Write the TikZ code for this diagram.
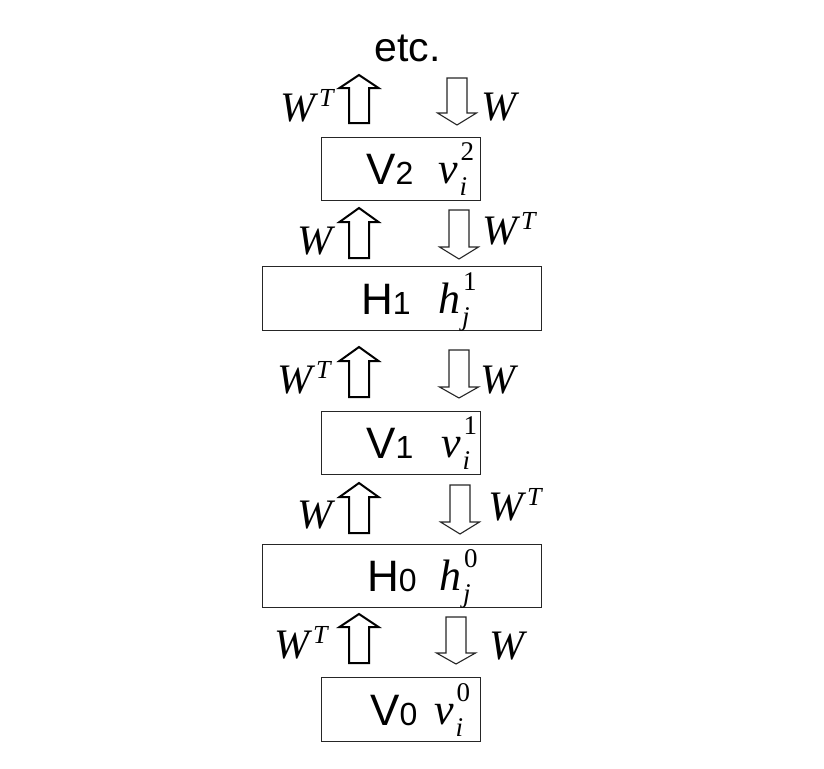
\documentclass[tikz,border=0pt]{standalone}
\usepackage{fontspec}
\setmainfont{Liberation Serif}
\newfontfamily\hv{Liberation Sans}
\newcommand{\Wit}{{\fontsize{42}{42}\selectfont\itshape W}}
\newcommand{\WTit}{{\fontsize{42}{42}\selectfont\itshape W}\kern4pt\raisebox{15pt}{\fontsize{26}{26}\selectfont\itshape T}}
\newcommand{\layerlbl}[2]{{\hv\fontsize{44}{44}\selectfont #1\fontsize{32}{32}\selectfont #2}}
\newcommand{\unitvar}[3]{{\fontsize{44}{44}\selectfont\itshape #1}\kern2pt\rlap{\raisebox{23pt}{\kern1pt\fontsize{27}{27}\selectfont #3}}\raisebox{-12pt}{\fontsize{27}{27}\selectfont\itshape #2}}
\newcommand{\uparrowshape}[4]{% cx, tip, headbase, bottom
  \draw[uparr] (#1-10,#4) -- (#1-10,#3) -- (#1-19.5,#3) -- (#1,#2) -- (#1+19.5,#3) -- (#1+10,#3) -- (#1+10,#4) -- cycle;}
\newcommand{\downarrowshape}[4]{% cx, top, headbase, tip
  \draw[downarr] (#1-10,#2) -- (#1-10,#3) -- (#1-19.5,#3) -- (#1,#4) -- (#1+19.5,#3) -- (#1+10,#3) -- (#1+10,#2) -- cycle;}
\begin{document}
\begin{tikzpicture}[x=1pt,y=-1pt,
  layerbox/.style={draw=black!85,line width=1pt,inner sep=0pt},
  uparr/.style={draw=black,line width=2pt,line join=miter,fill=white},
  downarr/.style={draw=black!85,line width=1.1pt,line join=miter,fill=white},
  lbl/.style={inner sep=0pt,anchor=base west}]
\useasboundingbox (0,0) rectangle (824,768);
% boxes
\node[layerbox,minimum width=159pt,minimum height=63pt] (v2) at (400.5,168.5) {};
\node[layerbox,minimum width=279pt,minimum height=64pt] (h1) at (401.5,298) {};
\node[layerbox,minimum width=159pt,minimum height=63pt] (v1) at (400.5,442.5) {};
\node[layerbox,minimum width=279pt,minimum height=63pt] (h0) at (401.5,575.5) {};
\node[layerbox,minimum width=159pt,minimum height=64pt] (v0) at (400.5,709) {};
% box texts
\node[lbl] (v2a) at (366,184) {\layerlbl{V}{2}};
\node[lbl] (v2b) at (438,183) {\unitvar{v}{i}{2}};
\node[lbl] (h1a) at (361,314) {\layerlbl{H}{1}};
\node[lbl] (h1b) at (438,313) {\unitvar{h}{j}{1}};
\node[lbl] (v1a) at (366,458) {\layerlbl{V}{1}};
\node[lbl] (v1b) at (441,457) {\unitvar{v}{i}{1}};
\node[lbl] (h0a) at (367,591.5) {\layerlbl{H}{0}};
\node[lbl] (h0b) at (439,590.5) {\unitvar{h}{j}{0}};
\node[lbl] (v0a) at (370,725) {\layerlbl{V}{0}};
\node[lbl] (v0b) at (434,724) {\unitvar{v}{i}{0}};
% etc
\node[inner sep=0pt,anchor=base] (etc) at (407.5,62) {\hv\fontsize{41}{41}\selectfont etc.};
% arrows
\uparrowshape{359}{75}{88}{123}
\downarrowshape{457}{78}{113}{125}
\uparrowshape{359}{208}{222}{258}
\downarrowshape{459}{210}{247}{259}
\uparrowshape{359}{347}{361}{397}
\downarrowshape{459}{350}{387}{398}
\uparrowshape{359}{483}{497}{533}
\downarrowshape{460}{485}{522}{534}
\uparrowshape{359}{614}{627}{663}
\downarrowshape{456}{617}{653}{664}
% arrow labels
\node[lbl] (l1) at (280,121) {\WTit};
\node[lbl] (r1) at (481,120) {\Wit};
\node[lbl] (l2) at (297,254) {\Wit};
\node[lbl] (r2) at (482,244) {\WTit};
\node[lbl] (l3) at (277,393) {\WTit};
\node[lbl] (r3) at (480,393) {\Wit};
\node[lbl] (l4) at (297,528) {\Wit};
\node[lbl] (r4) at (488,520) {\WTit};
\node[lbl] (l5) at (274,658) {\WTit};
\node[lbl] (r5) at (489,659) {\Wit};
\end{tikzpicture}
\end{document}
